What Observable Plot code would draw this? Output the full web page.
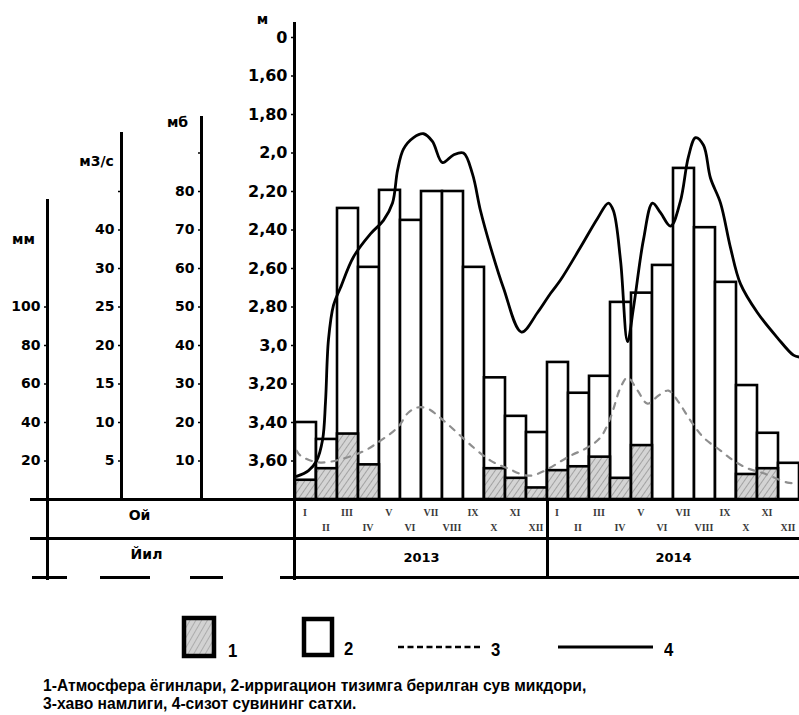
<!DOCTYPE html>
<html>
<head>
<meta charset="utf-8">
<script src="https://cdn.jsdelivr.net/npm/d3@7"></script>
<script src="https://cdn.jsdelivr.net/npm/@observablehq/plot@0.6"></script>
<style>
  body { margin: 0; background: #fff; }
  #page { position: relative; width: 799px; height: 715px; overflow: hidden; background: #fff; }
  #chart { position: absolute; left: 0; top: 0; width: 799px; height: 590px; }
  #chart svg { position: absolute; left: 0; top: 0; }
  .lg { position: absolute; }
  .num { position: absolute; font-family: "Liberation Sans", Arial, sans-serif; font-weight: bold; font-size: 19px; line-height: 19px; color: #000; transform: scaleX(0.88); transform-origin: left top; }
  #caption { position: absolute; left: 43px; top: 677px; font-family: "Liberation Sans", Arial, sans-serif; font-weight: bold; font-size: 17px; line-height: 18px; color: #000; white-space: nowrap; transform: scaleX(0.92); transform-origin: left top; }
</style>
</head>
<body>
<div id="page">
  <div id="chart"></div>
  <svg class="lg" style="left:181px;top:615px" width="36" height="44">
    <defs>
      <pattern id="hatchLegend" patternUnits="userSpaceOnUse" width="5" height="5" patternTransform="rotate(30)">
        <rect width="5" height="5" fill="#d2d2d2"></rect>
        <line x1="0" y1="0" x2="0" y2="5" stroke="#a0a0a0" stroke-width="1.5"></line>
      </pattern>
    </defs>
    <rect x="3" y="3" width="30" height="38" fill="url(#hatchLegend)" stroke="#000" stroke-width="4.5"></rect>
  </svg>
  <div class="num" style="left:228px;top:641px">1</div>
  <svg class="lg" style="left:301px;top:616px" width="34" height="42">
    <rect x="3" y="3" width="28" height="36" fill="#fff" stroke="#000" stroke-width="4.5"></rect>
  </svg>
  <div class="num" style="left:344px;top:639px">2</div>
  <svg class="lg" style="left:396px;top:640px" width="86" height="14">
    <line x1="2" y1="7" x2="84" y2="7" stroke="#000" stroke-width="2.6" stroke-dasharray="6,3.5"></line>
  </svg>
  <div class="num" style="left:491px;top:640px">3</div>
  <svg class="lg" style="left:556px;top:640px" width="100" height="14">
    <line x1="2" y1="7" x2="97" y2="7" stroke="#000" stroke-width="3.2"></line>
  </svg>
  <div class="num" style="left:664px;top:640px">4</div>
  <div id="caption">1-Атмосфера ёгинлари, 2-ирригацион тизимга берилган сув микдори,<br>3-хаво намлиги, 4-сизот сувининг сатхи.</div>
</div>
<script>
// ---------------- data ----------------
const months = ["I","II","III","IV","V","VI","VII","VIII","IX","X","XI","XII"];
const years = ["2013","2014"];
const rowTitles = ["Ой","Йил"];

// 2 – irrigation water supplied (м3/с), Jan 2013 … Dec 2014
const irrigation = [10, 7.8, 45.6, 30.3, 50.3, 42.5, 50, 50, 30.3, 15.8, 10.8, 8.7,
                    17.8, 13.8, 16.0, 25.6, 26.8, 30.8, 56, 40.6, 28.2, 14.8, 8.6, 4.7];
// 1 – atmospheric precipitation (мм)
const precipitation = [10, 16, 34, 18, 0, 0, 0, 0, 0, 16, 11, 6,
                       15, 17, 22, 11, 28, 0, 0, 0, 0, 13, 16, 0];
// 3 – air humidity (мб); position in months from Jan 2013
const humidityMonth = [0.05, 0.24, 1.19, 3.10, 4.05, 4.86, 5.38, 5.81, 6.29, 7.05, 8.48, 9.29, 10.10, 11.19,
                       13.10, 13.90, 14.52, 15.00, 15.48, 15.81, 16.29, 16.76, 17.29, 17.76, 18.19, 18.81,
                       19.43, 20.24, 20.86, 21.52, 22.29, 23.43, 23.90];
const humidity = [12.7, 11.4, 9.6, 12.2, 15.3, 18.7, 22.6, 23.9, 23.6, 20.5, 13.5, 10.1, 8.1, 6.2,
                  11.4, 13.5, 16.1, 21.3, 29.1, 31.7, 28.3, 24.9, 27.0, 28.3, 25.7, 20.5,
                  16.1, 12.7, 10.1, 8.1, 6.8, 4.4, 4.2];
// 4 – groundwater level depth (м)
const groundMonth = [0.05, 0.62, 1.00, 1.29, 1.43, 1.57, 1.81, 2.14, 2.76, 3.57, 4.19, 4.62, 4.86, 5.14, 5.62,
                     6.10, 6.52, 7.00, 7.52, 8.00, 8.43, 8.81, 9.29, 9.90, 10.76, 11.52, 12.14, 12.62, 13.57,
                     14.38, 14.90, 15.14, 15.48, 15.81, 16.10, 16.57, 17.00, 17.38, 17.86, 18.33, 18.71,
                     19.05, 19.43, 19.76, 20.24, 20.71, 21.19, 22.00, 22.95, 23.71, 24.0];
const groundLevel = [3.68, 3.65, 3.60, 3.49, 3.29, 2.97, 2.79, 2.70, 2.54, 2.42, 2.35, 2.26, 2.09, 1.98, 1.92,
                     1.90, 1.94, 2.05, 2.01, 2.00, 2.11, 2.30, 2.49, 2.70, 2.93, 2.83, 2.73, 2.66, 2.49,
                     2.34, 2.26, 2.30, 2.56, 2.98, 2.80, 2.45, 2.26, 2.31, 2.38, 2.25, 2.02,
                     1.92, 1.96, 2.13, 2.26, 2.49, 2.68, 2.83, 2.96, 3.05, 3.06];

// axis ticks and labels
const mmTicks = [20, 40, 60, 80, 100];
const mmLabels = ["20", "40", "60", "80", "100"];
const waterTicks = [5, 10, 15, 20, 25, 30, 40, 50];
const waterLabels = ["5", "10", "15", "20", "25", "30", "40", ""];
const mbTicks = [10, 20, 30, 40, 50, 60, 70, 80, 90];
const mbLabels = ["10", "20", "30", "40", "50", "60", "70", "80", ""];
const mTicks = [3.6, 3.4, 3.2, 3.0, 2.8, 2.6, 2.4, 2.2, 2.0, 1.8, 1.6, 1.4];
const mLabels = ["3,60", "3,40", "3,20", "3,0", "2,80", "2,60", "2,40", "2,20", "2,0", "1,80", "1,60", "0"];
const units = {mm: "мм", water: "м3/с", mb: "мб", m: "м"};

// ---------------- layout ----------------
const W = 799, H = 590;
const BASE = 499, TOPTICK = 37;
const STEP = (BASE - TOPTICK) / 12;
const xMonths = {type: "linear", domain: [0, 24], range: [295, 799], axis: null};
const stepped = (domain) => ({type: "linear", domain, range: domain.map((_, k) => BASE - k * STEP)});
const baseStyle = {background: "transparent", overflow: "visible", fontFamily: "DejaVu Sans, sans-serif", fontWeight: "bold", color: "black"};

function axis(ticks, labels, fontSize) {
  const lab = new Map(ticks.map((t, i) => [t, labels[i]]));
  return Plot.axisY({anchor: "left", ticks, tickFormat: d => lab.get(d), tickSize: 3, tickPadding: 4, label: null,
    fontSize, fontWeight: "bold", color: "black", strokeWidth: 1.5});
}
function unitLabel(text, dx, dy) {
  return Plot.text([text], {frameAnchor: "top-left", textAnchor: "middle", lineAnchor: "middle", dx, dy, fontSize: 14, fontWeight: "bold", fill: "black"});
}

const monthly = irrigation.map((v, i) => ({i, water: v, rain: precipitation[i]}));
const humidityData = humidityMonth.map((t, i) => ({t, v: humidity[i]}));
const groundData = groundMonth.map((t, i) => ({t, v: groundLevel[i]}));

// 2: irrigation bars + м3/с axis
const pWater = Plot.plot({
  width: W, height: H, marginLeft: 121, marginRight: 0, marginTop: 133, marginBottom: H - BASE,
  style: baseStyle, x: xMonths, y: stepped([0, 5, 10, 15, 20, 25, 30, 40, 50, 60]),
  marks: [
    Plot.frame({anchor: "left", stroke: "black", strokeWidth: 3}),
    axis(waterTicks, waterLabels, 14),
    unitLabel(units.water, -25, 28),
    Plot.rectY(monthly, {x1: "i", x2: d => d.i + 1, y: "water", fill: "white", stroke: "black", strokeWidth: 2.6})
  ]
});

// 1: precipitation bars + мм axis
const pRain = Plot.plot({
  width: W, height: H, marginLeft: 47, marginRight: 0, marginTop: 200, marginBottom: 12,
  style: baseStyle, x: xMonths, y: stepped([0, 20, 40, 60, 80, 100]),
  marks: [
    Plot.frame({anchor: "left", stroke: "black", strokeWidth: 3}),
    axis(mmTicks, mmLabels, 14),
    unitLabel(units.mm, -24, 39),
    Plot.rectY(monthly.filter(d => d.rain > 0), {x1: "i", x2: d => d.i + 1, y: "rain", fill: "url(#hatchBar)", stroke: "black", strokeWidth: 2.6})
  ]
});
d3.select(pRain).insert("defs", ":first-child").html(
  '<pattern id="hatchBar" patternUnits="userSpaceOnUse" width="5" height="5" patternTransform="rotate(35)">' +
  '<rect width="5" height="5" fill="#d4d4d4"></rect>' +
  '<line x1="0" y1="0" x2="0" y2="5" stroke="#8c8c8c" stroke-width="1.4"></line></pattern>');

// 3: humidity + мб axis
const pHum = Plot.plot({
  width: W, height: H, marginLeft: 201, marginRight: 0, marginTop: 117, marginBottom: H - BASE,
  style: baseStyle, x: xMonths, y: stepped([0, 10, 20, 30, 40, 50, 60, 70, 80, 90]),
  marks: [
    Plot.frame({anchor: "left", stroke: "black", strokeWidth: 3}),
    axis(mbTicks, mbLabels, 14),
    unitLabel(units.mb, -24, 5),
    Plot.line(humidityData, {x: "t", y: "v", curve: "catmull-rom", stroke: "#8e8e8e", strokeWidth: 2.2, strokeDasharray: "6,7"})
  ]
});

// 4: groundwater + м axis
const pGround = Plot.plot({
  width: W, height: H, marginLeft: 294, marginRight: 0, marginTop: 23, marginBottom: 12,
  style: baseStyle, x: xMonths, y: {type: "linear", domain: [3.8, 1.4], range: [BASE, TOPTICK]},
  marks: [
    Plot.frame({anchor: "left", stroke: "black", strokeWidth: 3}),
    axis(mTicks, mLabels, 16),
    unitLabel(units.m, -32, -4),
    Plot.line(groundData, {x: "t", y: "v", curve: "catmull-rom", stroke: "black", strokeWidth: 2.8})
  ]
});

// table: months / years
const monthCells = years.flatMap((yr, yi) => months.map((m, mi) => ({label: m, i: yi * 12 + mi, row: mi % 2})));
const pTable = Plot.plot({
  width: W, height: H, marginLeft: 30, marginRight: 0, marginTop: BASE, marginBottom: 12,
  style: baseStyle, x: xMonths, y: {type: "linear", domain: [0, 2], range: [BASE, 577], axis: null},
  marks: [
    Plot.ruleY([0, 1], {stroke: "black", strokeWidth: 3}),
    // bottom line: dashed under the header column, solid under the months
    Plot.ruleY([2], {stroke: "black", strokeWidth: 3, strokeDasharray: "0,2,35,33,50,40,33,57,2000"}),
    Plot.ruleX([12], {y1: 0, y2: 2, stroke: "black", strokeWidth: 3}),
    Plot.text(monthCells, {x: d => d.i + 0.45, y: d => d.row === 0 ? 0.33 : 0.72, text: "label",
      fontFamily: "Liberation Serif, DejaVu Serif, serif", fontSize: 10, fontWeight: "bold", fill: "#3a3a3a"}),
    Plot.text(years, {x: (d, i) => i * 12 + 6, y: 1.5, text: d => d, fontSize: 13, fontWeight: "bold", fill: "black"}),
    Plot.text([rowTitles[0]], {frameAnchor: "left", textAnchor: "middle", y: 0.42, dx: 109, fontSize: 14, fontWeight: "bold", fill: "black"}),
    Plot.text([rowTitles[1]], {frameAnchor: "left", textAnchor: "middle", y: 1.42, dx: 116, fontSize: 14, fontWeight: "bold", fill: "black"})
  ]
});

const chart = document.getElementById("chart");
[pWater, pRain, pHum, pGround, pTable].forEach(p => chart.appendChild(p));
</script>
</body>
</html>
